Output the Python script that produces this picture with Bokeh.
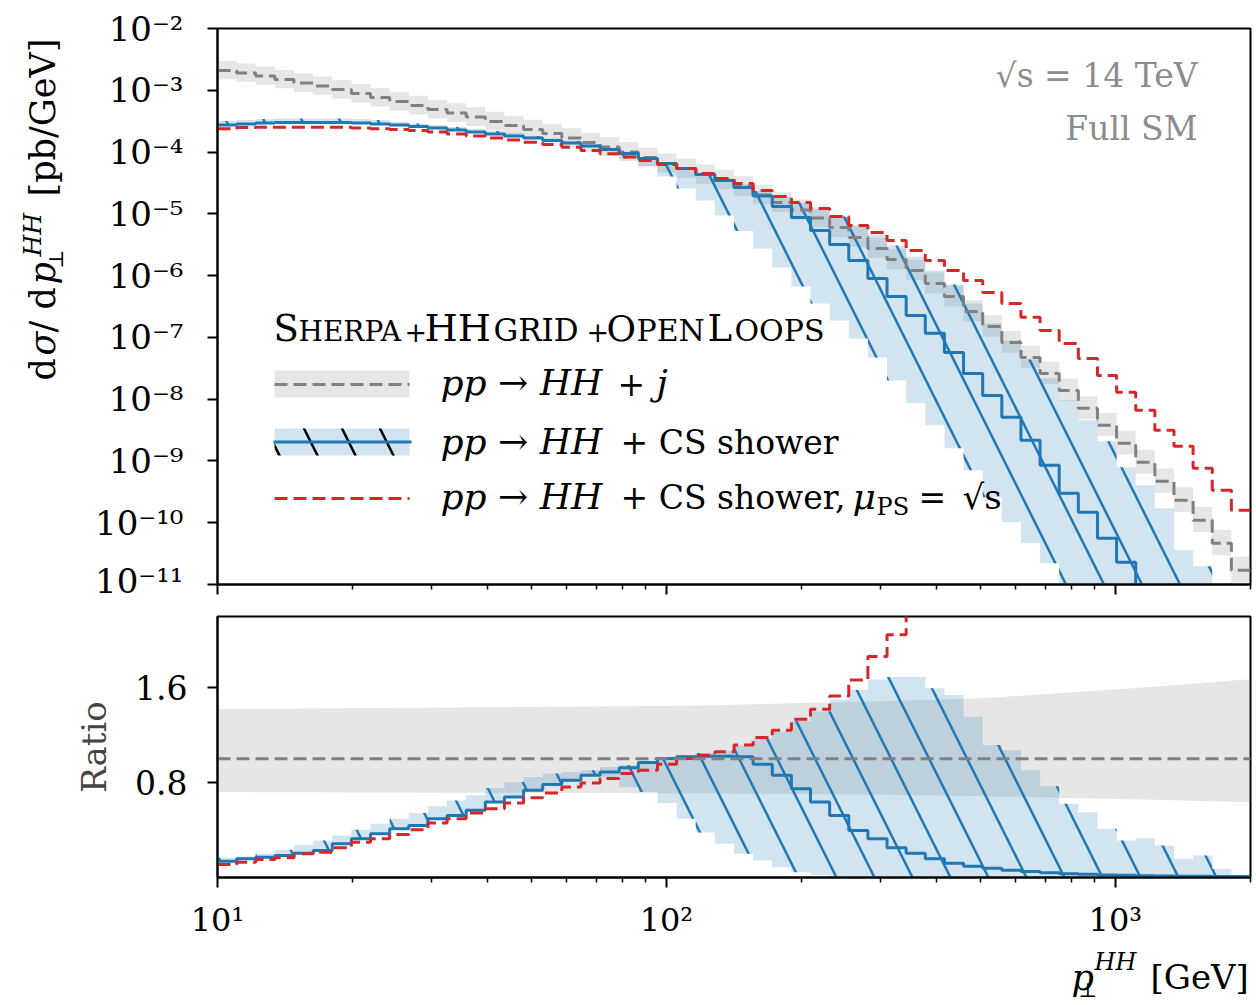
import numpy as np
from bokeh.plotting import figure
from bokeh.layouts import column, row
from bokeh.models import FixedTicker, CustomJSTickFormatter, Label, BoxAnnotation, Arrow, Range1d
from bokeh.embed import file_html
from bokeh.resources import INLINE

# ---------------- binning ----------------
n_bins = 54
pt_min, pt_max = 10.0, 2000.0

# ---------------- top panel: log10(dsigma/dpT) [pb/GeV] ----------------
log10_hhj = [-2.680, -2.720, -2.769, -2.825, -2.882, -2.930, -2.987, -3.052, -3.117, -3.181,
             -3.246, -3.311, -3.367, -3.432, -3.505, -3.570, -3.634, -3.699, -3.772, -3.845,
             -3.917, -3.998, -4.087, -4.184, -4.265, -4.362, -4.451, -4.557, -4.694, -4.816,
             -4.937, -5.066, -5.220, -5.382, -5.560, -5.738, -5.916, -6.126, -6.337, -6.579,
             -6.822, -7.081, -7.324, -7.583, -7.858, -8.149, -8.424, -8.715, -9.023, -9.330,
             -9.638, -9.961, -10.333, -10.770]

log10_cs = [-3.561, -3.545, -3.529, -3.521, -3.521, -3.521, -3.521, -3.529, -3.545, -3.561,
            -3.586, -3.610, -3.642, -3.675, -3.707, -3.739, -3.772, -3.812, -3.853, -3.901,
            -3.958, -4.023, -4.104, -4.184, -4.265, -4.362, -4.460, -4.573, -4.710, -4.880,
            -5.058, -5.269, -5.495, -5.754, -6.045, -6.337, -6.644, -6.935, -7.243, -7.583,
            -7.939, -8.294, -8.667, -9.071, -9.524, -9.832, -10.252, -10.641, -11.10, -11.35,
            -11.55, -11.75, -11.95, -12.15]

log10_cs_up = [-3.497, -3.481, -3.464, -3.456, -3.456, -3.456, -3.456, -3.464, -3.481, -3.513,
               -3.537, -3.561, -3.594, -3.626, -3.659, -3.691, -3.739, -3.780, -3.820, -3.869,
               -3.926, -3.990, -4.079, -4.176, -4.257, -4.346, -4.427, -4.516, -4.629, -4.727,
               -4.816, -4.921, -5.042, -5.180, -5.333, -5.511, -5.689, -5.916, -6.142, -6.450,
               -6.773, -7.049, -7.356, -7.663, -8.019, -8.343, -8.683, -9.104, -9.395, -9.767,
               -10.447, -10.706, -11.256, -11.903]

log10_cs_dn = [-3.578, -3.561, -3.545, -3.537, -3.537, -3.537, -3.537, -3.545, -3.561, -3.578,
               -3.602, -3.626, -3.659, -3.691, -3.723, -3.756, -3.788, -3.828, -3.869, -3.926,
               -3.990, -4.104, -4.225, -4.395, -4.589, -4.783, -5.026, -5.277, -5.560, -5.867,
               -6.175, -6.450, -6.725, -7.016, -7.324, -7.696, -8.068, -8.424, -8.796, -9.152,
               -9.589, -9.994, -10.333, -10.657, -11.256, -11.9, -12.4, -12.9, -13.4, -13.9,
               -14.4, -14.9, -15.4, -15.9]

log10_cs_sqrts = [-3.623, -3.602, -3.597, -3.597, -3.597, -3.597, -3.597, -3.610, -3.623, -3.634,
                  -3.650, -3.675, -3.707, -3.739, -3.772, -3.804, -3.840, -3.877, -3.921, -3.974,
                  -4.027, -4.079, -4.136, -4.201, -4.265, -4.346, -4.427, -4.508, -4.621, -4.718,
                  -4.816, -4.913, -5.042, -5.188, -5.301, -5.430, -5.592, -5.754, -5.916, -6.078,
                  -6.272, -6.450, -6.676, -6.887, -7.097, -7.340, -7.615, -7.890, -8.181, -8.505,
                  -8.764, -9.120, -9.476, -9.799]

# ---------------- ratio panel (w.r.t. pp -> HH + j) ----------------
ratio_hhj_dn = [0.720, 0.720, 0.719, 0.719, 0.718, 0.718, 0.717, 0.717, 0.716, 0.716,
                0.716, 0.715, 0.715, 0.714, 0.714, 0.714, 0.713, 0.713, 0.713, 0.712,
                0.712, 0.712, 0.711, 0.710, 0.709, 0.708, 0.707, 0.706, 0.705, 0.704,
                0.703, 0.701, 0.700, 0.699, 0.697, 0.696, 0.694, 0.693, 0.690, 0.687,
                0.684, 0.681, 0.678, 0.675, 0.671, 0.668, 0.664, 0.660, 0.657, 0.653,
                0.649, 0.645, 0.641, 0.637]

ratio_hhj_up = [1.420, 1.421, 1.422, 1.423, 1.424, 1.426, 1.427, 1.428, 1.429, 1.430,
                1.431, 1.432, 1.434, 1.435, 1.436, 1.437, 1.438, 1.439, 1.440, 1.442,
                1.443, 1.444, 1.445, 1.446, 1.448, 1.450, 1.454, 1.458, 1.462, 1.466,
                1.470, 1.474, 1.478, 1.482, 1.486, 1.490, 1.494, 1.498, 1.502, 1.508,
                1.516, 1.527, 1.537, 1.548, 1.559, 1.570, 1.581, 1.592, 1.603, 1.614,
                1.627, 1.640, 1.653, 1.666]

ratio_cs = [0.137, 0.157, 0.171, 0.185, 0.205, 0.227, 0.284, 0.326, 0.369, 0.411,
            0.439, 0.496, 0.523, 0.566, 0.636, 0.678, 0.735, 0.783, 0.819, 0.862,
            0.890, 0.925, 0.970, 1.003, 1.017, 1.022, 1.022, 1.017, 0.955, 0.862,
            0.749, 0.636, 0.523, 0.397, 0.326, 0.250, 0.205, 0.157, 0.120, 0.095,
            0.078, 0.062, 0.050, 0.040, 0.032, 0.027, 0.022, 0.018, 0.015, 0.013,
            0.011, 0.010, 0.009, 0.008]

ratio_cs_up = [0.166, 0.177, 0.200, 0.233, 0.276, 0.312, 0.354, 0.403, 0.453, 0.496,
               0.543, 0.600, 0.650, 0.693, 0.754, 0.805, 0.847, 0.876, 0.890, 0.904,
               0.932, 0.946, 0.975, 1.000, 1.030, 1.050, 1.070, 1.110, 1.170, 1.230,
               1.320, 1.400, 1.500, 1.580, 1.670, 1.690, 1.690, 1.595, 1.538, 1.355,
               1.116, 1.073, 0.904, 0.770, 0.622, 0.551, 0.411, 0.312, 0.330, 0.270,
               0.157, 0.185, 0.073, 0.016]

ratio_cs_dn = [0.130, 0.150, 0.164, 0.178, 0.198, 0.220, 0.277, 0.319, 0.362, 0.404,
               0.432, 0.489, 0.516, 0.559, 0.629, 0.671, 0.728, 0.776, 0.812, 0.855,
               0.840, 0.760, 0.720, 0.627, 0.496, 0.380, 0.284, 0.200, 0.143, 0.086,
               0.044, 0.019, 0.008, 0.004, 0.002, 0.001, 0.001, 0.0, 0.0, 0.0,
               0.0, 0.0, 0.0, 0.0, 0.0, 0.0, 0.0, 0.0, 0.0, 0.0,
               0.0, 0.0, 0.0, 0.0]

ratio_cs_sqrts = [0.109, 0.129, 0.151, 0.166, 0.200, 0.213, 0.250, 0.298, 0.326, 0.363,
                  0.403, 0.459, 0.496, 0.543, 0.580, 0.627, 0.673, 0.712, 0.763, 0.797,
                  0.834, 0.876, 0.904, 0.955, 1.003, 1.031, 1.059, 1.116, 1.180, 1.242,
                  1.333, 1.418, 1.530, 1.665, 1.862, 2.046, 2.35, 2.63, 2.94, 3.30,
                  3.55, 4.20, 4.50, 4.90, 5.80, 6.30, 6.40, 6.70, 7.00, 6.70,
                  7.50, 6.90, 7.10, 9.30]

x_major_ticks = [10, 100, 1000]
y_major_exponents = list(range(-11, -1))
ratio_ticks = [0.8, 1.6]

# ---------------- helpers ----------------
edges = np.geomspace(pt_min, pt_max, n_bins + 1)
centers = np.sqrt(edges[:-1] * edges[1:])
sx = np.repeat(edges, 2)[1:-1]


def sy(v):
    return np.repeat(np.asarray(v, dtype=float), 2)


def stepv(v):
    v = np.asarray(v, dtype=float)
    return np.append(v, v[-1])


hhj = 10.0 ** np.array(log10_hhj)
cs = 10.0 ** np.array(log10_cs)
cs_up = 10.0 ** np.array(log10_cs_up)
cs_dn = 10.0 ** np.array(log10_cs_dn)
cs_sq = 10.0 ** np.array(log10_cs_sqrts)
hhj_up = hhj * np.array(ratio_hhj_up)
hhj_dn = hhj * np.array(ratio_hhj_dn)

GRAY = "#808080"
BLUE = "#1f77b4"
RED = "#d62728"
SERIF = "DejaVu Serif"
NUMF = "DejaVu Serif"
LW = 3
DASH = "13 6"
HS = 76

PAGE_W, PAGE_H = 1256, 1005
LEFT_W = 70                # side strip holding the y label
FL, FW = 217, 1033         # frame left / width (page px)
T_TOP, T_H = 28, 556       # top frame
R_TOP, R_H = 616, 261      # ratio frame
XLAB_TOP = 942             # strip below the ratio panel

LOGX = np.log10(pt_max / pt_min)


def tx(px):
    return 10 ** (np.log10(pt_min) + (px - FL) * LOGX / FW)


def ty(py):
    return 10 ** (-2 - (py - T_TOP) * 9.0 / T_H)


sup_code = """
const sup = {"-": "\\u207b", "0": "\\u2070", "1": "\\u00b9", "2": "\\u00b2", "3": "\\u00b3",
             "4": "\\u2074", "5": "\\u2075", "6": "\\u2076", "7": "\\u2077", "8": "\\u2078", "9": "\\u2079"};
const e = Math.round(Math.log10(tick));
return "10" + String(e).split("").map(c => sup[c]).join("");
"""

minor_x = [m * 10 ** d for d in (1, 2) for m in range(2, 10)] + [2000]


def style_axes(p):
    p.xgrid.visible = False
    p.ygrid.visible = False
    p.outline_line_color = "black"
    p.outline_line_width = 2
    p.outline_line_alpha = 1
    p.background_fill_color = "white"
    p.border_fill_color = "white"
    for ax in p.axis:
        ax.axis_line_width = 2
        ax.axis_line_color = "black"
        ax.major_tick_line_width = 2
        ax.major_tick_line_color = "black"
        ax.minor_tick_line_width = 1.5
        ax.minor_tick_line_color = "black"
        ax.major_tick_in = 0
        ax.major_tick_out = 10
        ax.minor_tick_in = 0
        ax.minor_tick_out = 5
        ax.major_label_text_font = NUMF
        ax.major_label_text_font_size = "32px"
        ax.major_label_text_color = "black"


def lab(p, text, x, y, size, font=SERIF, style="normal", align="left",
        baseline="middle", color="black", angle=0.0):
    p.add_layout(Label(x=x, y=y, text=text, text_font=font, text_font_size=f"{size}px",
                       text_font_style=style, text_align=align, text_baseline=baseline,
                       text_color=color, angle=angle))


def tlab(text, px, base_py, size, **kw):
    # place a text of the top panel by its baseline (page px); anchor at the cap middle
    lab(p1, text, tx(px), ty(base_py - 0.36 * size), size, **kw)


def blank(width, height, xr, yr):
    f = figure(width=width, height=height, x_range=Range1d(*xr), y_range=Range1d(*yr),
               x_axis_location=None, y_axis_location=None, title=None,
               min_border=0, min_border_left=0, min_border_right=0,
               min_border_top=0, min_border_bottom=0,
               output_backend="svg", toolbar_location=None)
    f.outline_line_color = None
    f.xgrid.visible = False
    f.ygrid.visible = False
    f.background_fill_color = "white"
    f.border_fill_color = "white"
    return f


# ---------------- top panel ----------------
p1 = figure(x_axis_type="log", y_axis_type="log", title=None,
            x_range=Range1d(pt_min, pt_max), y_range=Range1d(1e-11, 1e-2),
            frame_width=FW, frame_height=T_H,
            min_border_left=FL - LEFT_W, min_border_right=PAGE_W - FL - FW,
            min_border_top=T_TOP, min_border_bottom=16,
            output_backend="svg", toolbar_location=None)
style_axes(p1)
p1.xaxis.ticker = FixedTicker(ticks=x_major_ticks, minor_ticks=minor_x)
p1.xaxis.formatter = CustomJSTickFormatter(code="return '';")
p1.xaxis.major_label_text_font_size = "2px"
p1.xaxis.major_label_standoff = 0
p1.yaxis.ticker = FixedTicker(ticks=[10.0 ** e for e in y_major_exponents], minor_ticks=[])
p1.yaxis.formatter = CustomJSTickFormatter(code=sup_code)
p1.yaxis.major_label_standoff = 24
p1.yaxis.major_label_text_font_size = "34px"

p1.varea(x=sx, y1=sy(hhj_dn), y2=sy(hhj_up), fill_color=GRAY, fill_alpha=0.2)
p1.varea(x=sx, y1=sy(cs_dn), y2=sy(cs_up), fill_color=BLUE, fill_alpha=0.2,
         hatch_pattern="\\", hatch_color=BLUE, hatch_weight=2.5, hatch_scale=HS, hatch_alpha=1.0)
p1.step(x=edges, y=stepv(hhj), mode="after", line_color=GRAY, line_width=LW, line_dash=DASH)
p1.step(x=edges, y=stepv(cs), mode="after", line_color=BLUE, line_width=LW)
p1.step(x=edges, y=stepv(cs_sq), mode="after", line_color=RED, line_width=LW, line_dash=DASH)

# legend (drawn by hand to keep the mixed fonts)
p1.add_layout(BoxAnnotation(left=tx(274), right=tx(409), bottom=ty(397), top=ty(370),
                            fill_color=GRAY, fill_alpha=0.2, line_color=None))
p1.add_layout(Arrow(end=None, x_start=tx(274), y_start=ty(384), x_end=tx(409), y_end=ty(384),
                    line_color=GRAY, line_width=LW, line_dash=DASH))
p1.add_layout(BoxAnnotation(left=tx(274), right=tx(409), bottom=ty(455), top=ty(428),
                            fill_color=BLUE, fill_alpha=0.2, line_color=None,
                            hatch_pattern="\\", hatch_color="black", hatch_weight=2.5, hatch_scale=HS))
p1.add_layout(Arrow(end=None, x_start=tx(273), y_start=ty(441.5), x_end=tx(411), y_end=ty(441.5),
                    line_color=BLUE, line_width=LW))
p1.add_layout(Arrow(end=None, x_start=tx(274), y_start=ty(498), x_end=tx(409), y_end=ty(498),
                    line_color=RED, line_width=LW, line_dash=DASH))

# legend title in small capitals (common baseline)
TB = 341
for txt, px, size in [("S", 273, 37), ("HERPA", 298, 28), ("+", 404, 27), ("HH", 424, 38),
                      ("GRID", 493, 31), ("+", 586, 27), ("O", 606, 36), ("PEN", 636, 30),
                      ("L", 707, 37), ("OOPS", 734, 30)]:
    tlab(txt, px, TB, size)

# legend entries
B1, B2, B3 = 395, 454, 509
tlab("pp \u2192 HH", 440, B1, 36, style="italic")
tlab("+", 617, B1, 33)
tlab("j", 656, B1, 36, style="italic")

tlab("pp \u2192 HH", 440, B2, 36, style="italic")
tlab("+ CS shower", 620, B2, 33)

tlab("pp \u2192 HH", 440, B3, 36, style="italic")
tlab("+ CS shower,", 620, B3, 33)
tlab("\u03bc", 852, B3, 36, style="italic")
tlab("PS", 876, B3 + 6, 24)
tlab("=", 918, B3, 33)
tlab("\u221as", 962, B3, 34)

# process annotations
lab(p1, "\u221as = 14 TeV", tx(1197), ty(75), 33, align="right", color="#8c8c8c")
lab(p1, "Full SM", tx(1197), ty(128), 33, align="right", color="#8c8c8c")

# ---------------- ratio panel ----------------
p2 = figure(x_axis_type="log", x_range=p1.x_range, y_range=Range1d(0.0, 2.2), title=None,
            frame_width=FW, frame_height=R_H,
            min_border_left=FL - LEFT_W, min_border_right=PAGE_W - FL - FW,
            min_border_top=R_TOP - 600, min_border_bottom=XLAB_TOP - (R_TOP + R_H),
            output_backend="svg", toolbar_location=None)
style_axes(p2)
p2.xaxis.ticker = FixedTicker(ticks=x_major_ticks, minor_ticks=minor_x)
p2.xaxis.formatter = CustomJSTickFormatter(code=sup_code)
p2.xaxis.major_label_standoff = 13
p2.yaxis.ticker = FixedTicker(ticks=ratio_ticks, minor_ticks=[])
p2.yaxis.major_label_standoff = 20
p2.yaxis.major_label_text_font_size = "33px"
p2.yaxis.axis_label = "Ratio"
p2.yaxis.axis_label_text_font = SERIF
p2.yaxis.axis_label_text_font_size = "34px"
p2.yaxis.axis_label_text_font_style = "normal"
p2.yaxis.axis_label_standoff = 18

gx = np.concatenate([[edges[0]], centers, [edges[-1]]])
g_dn = np.concatenate([[ratio_hhj_dn[0]], ratio_hhj_dn, [ratio_hhj_dn[-1]]])
g_up = np.concatenate([[ratio_hhj_up[0]], ratio_hhj_up, [ratio_hhj_up[-1]]])
p2.varea(x=gx, y1=g_dn, y2=g_up, fill_color=GRAY, fill_alpha=0.2)
p2.varea(x=sx, y1=sy(ratio_cs_dn), y2=sy(ratio_cs_up), fill_color=BLUE, fill_alpha=0.2,
         hatch_pattern="\\", hatch_color=BLUE, hatch_weight=2.5, hatch_scale=HS, hatch_alpha=1.0)
p2.step(x=edges, y=stepv(ratio_cs), mode="after", line_color=BLUE, line_width=LW)
p2.step(x=edges, y=stepv(ratio_cs_sqrts), mode="after", line_color=RED, line_width=LW, line_dash=DASH)
p2.step(x=edges, y=stepv(hhj / hhj), mode="after", line_color=GRAY, line_width=LW, line_dash=DASH)

# ---------------- side strips for the axis titles (page-pixel coordinates) ----------------
left = blank(LEFT_W, XLAB_TOP, (0, LEFT_W), (XLAB_TOP, 0))
ang = np.pi / 2
for txt, start, style in [("d", 380, "normal"), ("\u03c3", 355, "italic"), ("/", 332, "normal"),
                          ("d", 309, "normal"), ("p", 284, "italic")]:
    lab(left, txt, 42, start, 35, style=style, angle=ang)
lab(left, "HH", 32, 256, 25, style="italic", angle=ang)
lab(left, "\u22a5", 55, 268, 20, angle=ang)
lab(left, "[pb/GeV]", 42, 196, 35, angle=ang)

bottom = blank(PAGE_W, PAGE_H - XLAB_TOP, (0, PAGE_W), (PAGE_H, XLAB_TOP))
lab(bottom, "p", 1071, 977, 35, style="italic")
lab(bottom, "HH", 1094, 961, 24, style="italic")
lab(bottom, "\u22a5", 1078, 989, 20)
lab(bottom, "[GeV]", 1150, 976, 34)

layout = column(row(left, column(p1, p2)), bottom)
open("out.html", "w").write(file_html(layout, INLINE))
